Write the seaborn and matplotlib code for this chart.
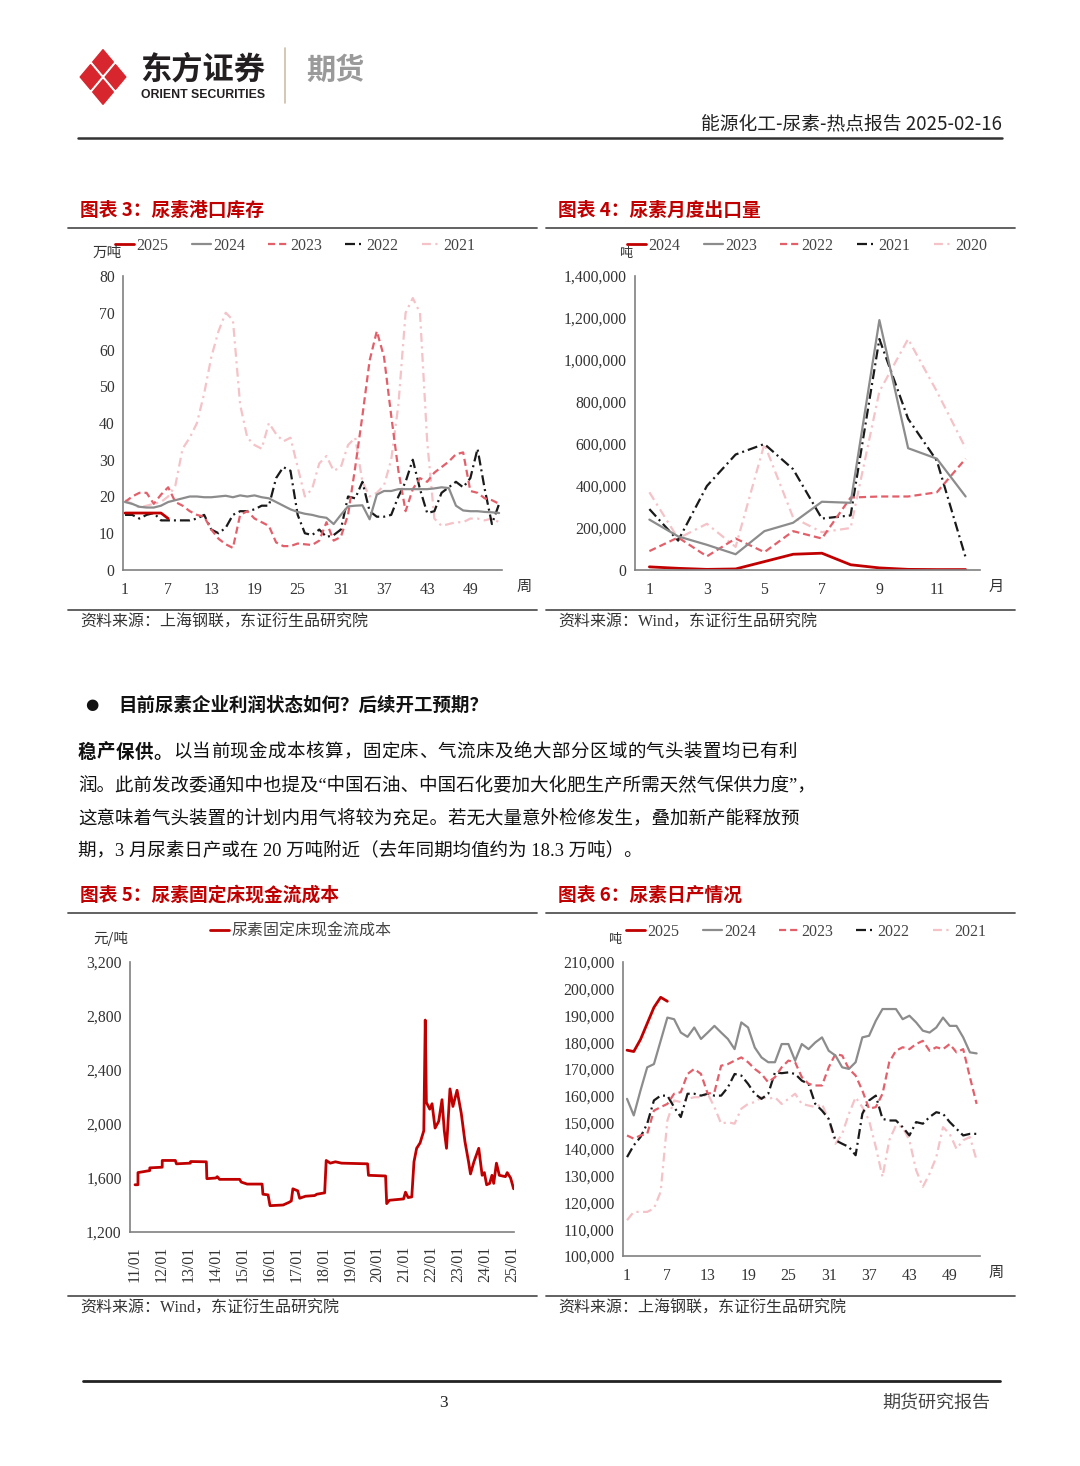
import pandas as pd
import matplotlib
matplotlib.use('Agg')
import matplotlib.pyplot as plt
import matplotlib.dates as mdates
from matplotlib.lines import Line2D
from matplotlib.patches import Polygon
from matplotlib.ticker import FuncFormatter
import seaborn as sns

weeks = list(range(1, 54))
months = list(range(1, 13))

# chart 3: port inventory (10k t), weekly
port_2025 = [15.5, 15.5, 15.5, 15.5, 15.5, 15.5, 14]
port_2024 = [18.5, 18, 17.2, 17, 17, 17.5, 18.5, 19, 19.5, 20,
             20, 19.8, 19.8, 20, 20.2, 19.8, 20.3, 20, 20.3, 19.8,
             19.5, 18.5, 17.5, 16.5, 15.8, 15.3, 15, 14.5, 14.2, 12.5,
             15, 17.3, 17.5, 17.6, 13.8, 20.5, 21.5, 21.5, 22, 22,
             22, 22, 22, 22.2, 22.5, 22.3, 17.5, 16.2, 16, 16,
             15.8, 15.7, 15.5]
port_2023 = [18.5, 20, 21, 21, 18, 20.5, 22.5, 18.5, 17.5, 16,
             15, 14.5, 11, 8.5, 7, 6, 15, 16, 14, 13,
             12, 7.5, 6.5, 6.5, 7.2, 7, 6.8, 8, 13, 8,
             9, 15, 28, 42, 57, 65, 58, 42, 27, 16,
             22, 25, 24, 26.5, 28, 29.5, 31.5, 32, 21.5, 21,
             19.5, 19, 18]
port_2022 = [15, 15, 14, 15, 15.5, 13.5, 13.5, 13.5, 13.5, 13.5,
             14, 15, 11, 10, 11.5, 15, 16, 16, 16.5, 17.5,
             17.5, 25, 28, 27, 15, 10, 9.5, 11, 9, 9.5,
             11, 20, 19.5, 24, 16, 14.5, 14.5, 15, 20, 24,
             30, 22, 15.5, 16, 21, 22.5, 24, 22.5, 25, 33,
             22, 12.5, 18]
port_2021 = [19, 18, 17, 17.5, 18, 18.5, 20, 23, 33, 36,
             40, 48, 58, 65, 70, 68, 45, 36, 34, 33,
             40, 37, 35, 36, 28, 20, 22, 29, 31, 27,
             28, 34, 36, 24, 20, 21, 23, 30, 45, 70,
             74, 70, 35, 14, 12, 12.5, 13, 13, 14, 14,
             13.5, 14, 13]

# chart 4: monthly exports (t)
exp_2024 = [15000, 8000, 3000, 5000, 40000, 75000, 80000, 25000, 10000, 3000, 2000, 2000]
exp_2023 = [240000, 160000, 120000, 75000, 185000, 225000, 325000, 320000, 1190000, 580000, 530000, 350000]
exp_2022 = [90000, 155000, 65000, 150000, 85000, 185000, 150000, 345000, 350000, 350000, 370000, 530000]
exp_2021 = [290000, 140000, 400000, 550000, 600000, 480000, 245000, 260000, 1100000, 720000, 520000, 60000]
exp_2020 = [370000, 150000, 220000, 110000, 600000, 250000, 180000, 200000, 850000, 1100000, 850000, 580000]

# chart 5: fixed-bed cash cost (yuan/t)
cost_dates = ['2011-01-01', '2011-02-10', '2011-02-10', '2011-07-20', '2011-07-20', '2012-01-05',
              '2012-01-05', '2012-07-01', '2012-07-15', '2013-01-20', '2013-01-25', '2013-08-25',
              '2013-09-01', '2014-01-01', '2014-01-20', '2014-02-20', '2014-11-20', '2014-12-10',
              '2015-03-01', '2015-09-20', '2015-10-01', '2015-12-10', '2016-01-05', '2016-07-01',
              '2016-09-20', '2016-10-20', '2016-11-10', '2017-01-15', '2017-02-10', '2017-05-01',
              '2017-09-01', '2017-10-01', '2018-01-15', '2018-02-05', '2018-04-01', '2018-06-10',
              '2018-09-01', '2019-08-20', '2019-09-01', '2020-04-20', '2020-05-05', '2020-06-10',
              '2020-12-20', '2021-01-15', '2021-02-20', '2021-04-10', '2021-05-10', '2021-06-15',
              '2021-08-01', '2021-09-20', '2021-10-10', '2021-10-25', '2021-12-10', '2022-01-10',
              '2022-02-20', '2022-04-10', '2022-05-25', '2022-06-25', '2022-07-25', '2022-09-10',
              '2022-10-20', '2022-12-15', '2023-02-10', '2023-04-01', '2023-05-20', '2023-06-15',
              '2023-08-01', '2023-10-05', '2023-11-20', '2023-12-20', '2024-01-20', '2024-03-01',
              '2024-04-01', '2024-04-25', '2024-06-01', '2024-07-10', '2024-10-01', '2024-10-25',
              '2024-12-10', '2025-01-20']
cost_values = [1550, 1550, 1640, 1655, 1675, 1680,
               1730, 1730, 1705, 1710, 1722, 1720,
               1595, 1600, 1610, 1590, 1590, 1570,
               1555, 1555, 1480, 1475, 1395, 1400,
               1420, 1430, 1520, 1505, 1450, 1465,
               1470, 1480, 1490, 1730, 1710, 1720,
               1710, 1705, 1620, 1615, 1410, 1435,
               1445, 1495, 1455, 1460, 1720, 1820,
               1860, 1950, 2770, 2160, 2110, 2150,
               1970, 2020, 2180, 1950, 1820, 2260,
               2130, 2250, 2080, 1870, 1720, 1630,
               1720, 1820, 1620, 1640, 1550, 1560,
               1620, 1560, 1710, 1620, 1610, 1640,
               1600, 1520]

# chart 6: daily output (t), weekly
prod_2025 = [177000, 176500, 181000, 187000, 193000, 196800, 195300]
prod_2024 = [158800, 152600, 161900, 170600, 171800, 180500, 189200, 188600, 183600, 182000,
             185500, 181200, 183600, 186100, 183600, 181200, 177400, 187400, 185500, 178000,
             174300, 172500, 172500, 179300, 179300, 173100, 179300, 177400, 179900, 181800,
             176800, 175000, 170600, 170000, 172500, 181800, 182400, 188000, 192400, 192400,
             192400, 188600, 189900, 187400, 184300, 183600, 185500, 189200, 186100, 186100,
             181800, 176200, 175800]
prod_2023 = [145100, 143900, 145100, 145700, 154400, 155700, 156900, 160700, 161300, 168100,
             170000, 168100, 160700, 161300, 171200, 171800, 173100, 174300, 172500, 170000,
             168100, 165000, 166900, 170600, 173100, 172500, 166900, 164400, 163800, 163800,
             170600, 175600, 175000, 170000, 167500, 161900, 155100, 155700, 160700, 172500,
             176800, 178100, 177400, 179300, 180500, 176800, 178100, 177400, 179300, 176200,
             177400, 166900, 156900]
prod_2022 = [137000, 141400, 144500, 149500, 158200, 160000, 160000, 155700, 152000, 160700,
             160700, 160000, 160700, 160000, 160000, 163100, 168100, 167500, 164400, 160700,
             158800, 160700, 168700, 168400, 168700, 168100, 165600, 164400, 156900, 154400,
             151300, 143300, 142000, 140800, 137700, 153200, 158200, 160000, 151300, 150700,
             150700, 148200, 145100, 150100, 149500, 152000, 153800, 153200, 150100, 147600,
             145100, 145700, 145700]
prod_2021 = [113400, 116500, 116500, 116500, 117800, 124000, 150700, 158200, 157600, 158800,
             159400, 159400, 160700, 155700, 149500, 150100, 149500, 155100, 156900, 157600,
             159400, 158800, 159400, 156900, 158800, 160700, 156900, 156300, 155700, 156900,
             150700, 142000, 145700, 153200, 159400, 155700, 150700, 140800, 129600, 143300,
             148900, 148200, 143300, 132100, 125900, 130800, 137000, 148200, 145700, 140100,
             143300, 144500, 135800]

# ---------------- page setup ----------------
sns.set_style('white')
plt.rcParams['font.family'] = ['Liberation Serif', 'Noto Sans CJK SC']
plt.rcParams['axes.unicode_minus'] = False

W, H = 1080, 1466
fig = plt.figure(figsize=(W / 100, H / 100), dpi=100)

CJK = ['Noto Sans CJK SC', 'DejaVu Sans']
MIX = ['Liberation Serif', 'Noto Sans CJK SC']
RED = '#c00000'
GRAY = '#8c8c8c'
LRED = '#e3606b'
BLACK = '#1a1a1a'
PINK = '#f4c2c7'


def fx(x):
    return x / W


def fy(y):
    return 1 - y / H


def hline(x1, x2, y, color='#555555', lw=1.2):
    fig.add_artist(Line2D([fx(x1), fx(x2)], [fy(y), fy(y)], transform=fig.transFigure, color=color, lw=lw))


def text(x, y, s, size, ha='left', family=MIX, color='#333333', **kw):
    fig.text(fx(x), fy(y), s, fontsize=size, ha=ha, va='center', family=family, color=color, **kw)


def make_axes(l, t, r, b):
    ax = fig.add_axes([fx(l), fy(b), (r - l) / W, (b - t) / H])
    for s in ['top', 'right']:
        ax.spines[s].set_visible(False)
    for s in ['left', 'bottom']:
        ax.spines[s].set_color('#808080')
        ax.spines[s].set_linewidth(1.2)
    ax.tick_params(axis='both', colors='#808080', labelcolor='#333333', labelsize=11.3, length=4, width=1)
    ax.tick_params(axis='y', pad=2)
    return ax


def draw_lines(ax, x, series, colors, dashes, widths):
    names = list(series.keys())
    df = pd.concat([pd.DataFrame({'x': x[:len(series[n])], 'v': series[n], 'year': n}) for n in names])
    sns.lineplot(data=df, x='x', y='v', hue='year', style='year', hue_order=names[::-1],
                 style_order=names[::-1], palette=colors, dashes=dashes, estimator=None,
                 sort=False, legend=False, ax=ax, linewidth=1.6)
    for line, n in zip(ax.lines, names[::-1]):
        line.set_linewidth(widths[n])
    handles = []
    for n in names:
        kw = {'dashes': dashes[n]} if dashes[n] else {}
        handles.append(Line2D([0], [0], color=colors[n], lw=widths[n], **kw))
    ax.set_xlabel('')
    ax.set_ylabel('')
    return handles, names


def legend(ax, handles, labels, cx, cy):
    ax.legend(handles, labels, loc='center', bbox_to_anchor=(fx(cx), fy(cy)),
              bbox_transform=fig.transFigure, ncol=len(labels), frameon=False,
              prop={'family': MIX, 'size': 11.5}, handlelength=1.2, handletextpad=0.15,
              columnspacing=1.45, labelcolor='#444444')


def chart_frame(x1, x2, title, ty, ly, sy, source):
    text(x1 + 12, ty, title, 13.5, family=CJK, color=RED, weight='bold')
    hline(x1, x2, ly, '#555555', 1.3)
    hline(x1, x2, sy, '#555555', 1.3)
    text(x1 + 12, sy + 13, source, 11.5, color='#333333')


fmt_thousands = FuncFormatter(lambda v, p: f'{v:,.0f}')
year_dash = {'2025': '', '2024': '', '2023': (3.2, 1.8), '2022': (4.5, 1.8, 0.9, 1.8),
             '2021': (4, 2, 1, 2)}
year_col = {'2025': RED, '2024': GRAY, '2023': LRED, '2022': BLACK, '2021': PINK}
year_lw = {'2025': 2.0, '2024': 1.6, '2023': 1.6, '2022': 1.6, '2021': 1.6}

# ---------------- header ----------------
cx0, cy0 = 103, 77
for dx, dy in [(0, -15), (0, 15), (-12.5, 0), (12.5, 0)]:
    px, py = cx0 + dx, cy0 + dy
    hw, hh = 10.3, 12.3
    pts = [(fx(px), fy(py - hh)), (fx(px + hw), fy(py)), (fx(px), fy(py + hh)), (fx(px - hw), fy(py))]
    fig.add_artist(Polygon(pts, closed=True, transform=fig.transFigure, facecolor='#d7262e',
                           edgecolor='#d7262e', lw=1.0, joinstyle='round'))
text(140, 70, '东方证券', 22.5, family=CJK, color='#231f20', weight='bold')
text(141, 95, 'ORIENT SECURITIES', 8.8, family=['Liberation Sans'], color='#231f20', weight='bold')
fig.add_artist(Line2D([fx(285), fx(285)], [fy(48), fy(103)], transform=fig.transFigure,
                      color='#cdbfa8', lw=1.2))
text(306, 70, '期货', 21, family=CJK, color='#9a9a9a', weight='bold')
text(1002, 124, '能源化工-尿素-热点报告 2025-02-16', 13.5, ha='right', family=CJK, color='#222222')
hline(78, 1002, 138, '#333333', 1.8)

# ---------------- chart 3 ----------------
chart_frame(68, 537, '图表 3：尿素港口库存', 210, 228, 610, '资料来源：上海钢联，东证衍生品研究院')
ax3 = make_axes(123, 276, 502, 570)
series3 = {'2025': port_2025, '2024': port_2024, '2023': port_2023, '2022': port_2022, '2021': port_2021}
h, l = draw_lines(ax3, weeks, series3, year_col, year_dash, year_lw)
ax3.set_xlim(0.72, 53.4)
ax3.set_ylim(0, 80)
ax3.set_yticks(range(0, 81, 10))
ax3.set_xticks(range(1, 50, 6))
ax3.tick_params(axis='x', direction='in', pad=9)
legend(ax3, h, l, 295, 246)
text(107, 253, '万吨', 10.5, ha='center', family=CJK)
text(517, 586, '周', 11, family=CJK)

# ---------------- chart 4 ----------------
chart_frame(546, 1015, '图表 4：尿素月度出口量', 210, 228, 610, '资料来源：Wind，东证衍生品研究院')
ax4 = make_axes(635, 276, 980, 570)
series4 = {'2024': exp_2024, '2023': exp_2023, '2022': exp_2022, '2021': exp_2021, '2020': exp_2020}
col4 = {'2024': RED, '2023': GRAY, '2022': LRED, '2021': BLACK, '2020': PINK}
dash4 = {'2024': '', '2023': '', '2022': (3.2, 1.8), '2021': (4.5, 1.8, 0.9, 1.8), '2020': (4, 2, 1, 2)}
lw4 = {'2024': 2.0, '2023': 1.6, '2022': 1.6, '2021': 1.6, '2020': 1.6}
h, l = draw_lines(ax4, months, series4, col4, dash4, lw4)
ax4.set_xlim(0.5, 12.5)
ax4.set_ylim(0, 1400000)
ax4.set_yticks(range(0, 1400001, 200000))
ax4.yaxis.set_major_formatter(fmt_thousands)
ax4.set_xticks(range(1, 12, 2))
ax4.tick_params(axis='x', direction='in', pad=9)
legend(ax4, h, l, 807, 246)
text(626, 253, '吨', 9.5, ha='center', family=CJK)
text(996, 586, '月', 11, ha='center', family=CJK)

# ---------------- text block ----------------
text(85, 705, '●', 11, family=['DejaVu Sans'], color='#111111')
text(118, 705, '目前尿素企业利润状态如何？后续开工预期？', 13.3, family=CJK, color='#111111', weight='bold')
line1 = '稳产保供。以当前现金成本核算，固定床、气流床及绝大部分区域的气头装置均已有利'
step = (797 - 78 - 18.5) / (len(line1) - 1)
for i, ch in enumerate(line1):
    text(78 + i * step, 752, ch, 13.3, family=CJK, color='#111111',
         weight='bold' if i < 5 else 'normal')
text(78, 786, '润。此前发改委通知中也提及“中国石油、中国石化要加大化肥生产所需天然气保供力度”，', 13.3,
     color='#111111')
text(78, 818, '这意味着气头装置的计划内用气将较为充足。若无大量意外检修发生，叠加新产能释放预', 13.3,
     color='#111111')
text(78, 851, '期，3 月尿素日产或在 20 万吨附近（去年同期均值约为 18.3 万吨）。', 13.3, color='#111111')

# ---------------- chart 5 ----------------
chart_frame(68, 537, '图表 5：尿素固定床现金流成本', 895, 913, 1296, '资料来源：Wind，东证衍生品研究院')
ax5 = make_axes(130, 962, 514, 1232)
cost_df = pd.DataFrame({'date': pd.to_datetime(cost_dates), 'cost': cost_values})
sns.lineplot(data=cost_df, x='date', y='cost', color=RED, linewidth=2.0, estimator=None,
             sort=False, ax=ax5, label='尿素固定床现金流成本')
ax5.set_xlabel('')
ax5.set_ylabel('')
ax5.set_xlim(pd.Timestamp('2010-10-25'), pd.Timestamp('2025-01-25'))
ax5.set_ylim(1200, 3200)
ax5.set_yticks(range(1200, 3201, 400))
ax5.yaxis.set_major_formatter(fmt_thousands)
ax5.xaxis.set_major_locator(mdates.YearLocator())
ax5.xaxis.set_major_formatter(mdates.DateFormatter('%y/%m'))
ax5.tick_params(axis='x', direction='out', labelrotation=90, pad=6)
h5 = [Line2D([0], [0], color=RED, lw=2.0)]
legend(ax5, h5, ['尿素固定床现金流成本'], 301, 932)
text(111, 939, '元/吨', 10.5, ha='center', family=CJK)

# ---------------- chart 6 ----------------
chart_frame(546, 1015, '图表 6：尿素日产情况', 895, 913, 1296, '资料来源：上海钢联，东证衍生品研究院')
ax6 = make_axes(623, 962, 980, 1256)
series6 = {'2025': prod_2025, '2024': prod_2024, '2023': prod_2023, '2022': prod_2022, '2021': prod_2021}
h, l = draw_lines(ax6, weeks, series6, year_col, year_dash, year_lw)
ax6.set_xlim(0.4, 53.5)
ax6.set_ylim(100000, 210000)
ax6.set_yticks(range(100000, 210001, 10000))
ax6.yaxis.set_major_formatter(fmt_thousands)
ax6.set_xticks(range(1, 50, 6))
ax6.tick_params(axis='x', direction='in', pad=9)
legend(ax6, h, l, 806, 932)
text(615, 940, '吨', 9.5, ha='center', family=CJK)
text(996, 1272, '周', 11, ha='center', family=CJK)

# ---------------- footer ----------------
hline(83, 1000, 1381, '#222222', 2)
text(443, 1403, '3', 12.5, ha='center', color='#222222')
text(990, 1403, '期货研究报告', 13, ha='right', family=CJK, color='#444444')

fig.savefig('out.png', dpi=100, facecolor='white')
